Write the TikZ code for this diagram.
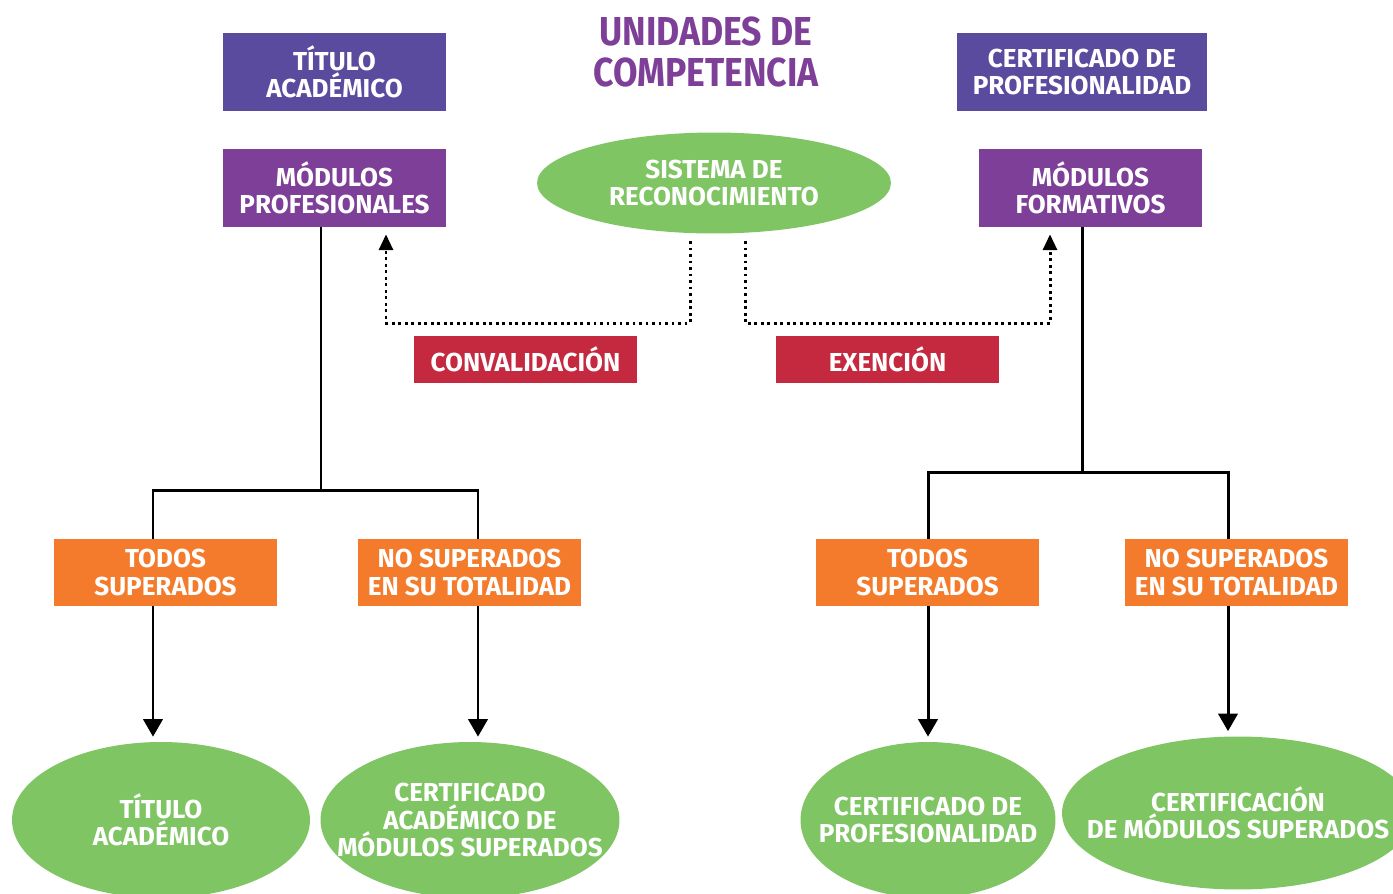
\documentclass[tikz,border=0pt]{standalone}
\usepackage{fontspec}
\setmainfont{Fira Sans}
\newfontfamily\headfont{Fira Sans}[FakeStretch=0.88]
\usetikzlibrary{arrows.meta,shapes.geometric}

\definecolor{ucindigo}{HTML}{5B4B9E}
\definecolor{ucpurple}{HTML}{7E3F98}
\definecolor{ucgreen}{HTML}{80C564}
\definecolor{ucorange}{HTML}{F47B2B}
\definecolor{ucred}{HTML}{C4293F}

\begin{document}
\begin{tikzpicture}[
  x=0.02cm,y=-0.02cm,
  font=\bfseries\fontsize{14.8}{15.4}\selectfont,
  box/.style={fill=#1,text=white,align=center,inner sep=0pt,
              minimum width=4.46cm},
  head/.style={box=ucindigo,minimum height=1.56cm},
  modbox/.style={box=ucpurple,minimum height=1.56cm},
  waybox/.style={box=ucred,minimum height=0.94cm},
  resbox/.style={box=ucorange,minimum height=1.34cm},
  oval/.style={ellipse,fill=ucgreen,text=white,align=center,
               inner xsep=-1.5cm,inner ysep=-0.6cm},
  link/.style={line width=1.7pt},
  down/.style={link,-{Triangle[width=11pt,length=10pt]},shorten >=0.1cm},
  dotarrow/.style={line width=1.7pt,dotted,
                   -{Triangle[width=8pt,length=9pt]}}
]
  \path[use as bounding box] (0,0) rectangle (1393,893);
  \node[text=ucpurple,align=center,
        font=\headfont\bfseries\fontsize{23}{23.8}\selectfont] (titulo) at (706,52)
    {UNIDADES DE\\COMPETENCIA};

  % upper row
  \node[head] (tacad) at (334.5,72) {TÍTULO\\ACADÉMICO};
  \node[head,minimum width=5cm] (cprof) at (1082,72)
    {CERTIFICADO DE\\PROFESIONALIDAD};
  \node[modbox] (mprof) at (334.5,188) {MÓDULOS\\PROFESIONALES};
  \node[modbox] (mform) at (1090.5,188) {MÓDULOS\\FORMATIVOS};
  \node[oval,minimum width=7.08cm,minimum height=2.02cm] (sistema) at (714,183)
    {SISTEMA DE\\RECONOCIMIENTO};
  \node[waybox] (conv) at (525.5,359) {CONVALIDACIÓN};
  \node[waybox] (exen) at (887.5,359) {EXENCIÓN};

  % dotted links from the recognition system
  \coordinate (convA) at (690,241);
  \coordinate (convB) at (386,323);
  \coordinate (exenA) at (745,241);
  \coordinate (exenB) at (1050,323);
  \draw[dotarrow] (convA) |- (convB) -- ([yshift=-0.14cm]convB |- mprof.south);
  \draw[dotarrow] (exenA) |- (exenB) -- ([yshift=-0.14cm]exenB |- mform.south);

  % result boxes
  \node[resbox] (todosA) at (165.5,572.5) {TODOS\\SUPERADOS};
  \node[resbox] (nosupA) at (469.5,572.5) {NO SUPERADOS\\EN SU TOTALIDAD};
  \node[resbox] (todosB) at (927.5,572.5) {TODOS\\SUPERADOS};
  \node[resbox] (nosupB) at (1236.5,572.5) {NO SUPERADOS\\EN SU TOTALIDAD};

  % final ellipses
  \node[oval,minimum width=5.96cm,minimum height=3.12cm] (finA) at (161,820)
    {TÍTULO\\ACADÉMICO};
  \node[oval,minimum width=5.98cm,minimum height=3.12cm] (finB) at (470,820)
    {CERTIFICADO\\ACADÉMICO DE\\MÓDULOS SUPERADOS};
  \node[oval,minimum width=5.1cm,minimum height=3.12cm] (finC) at (928,820)
    {CERTIFICADO DE\\PROFESIONALIDAD};
  \node[oval,minimum width=7.04cm,minimum height=3.06cm] (finD) at (1238,813)
    {CERTIFICACIÓN\\DE MÓDULOS SUPERADOS};

  % tree connectors
  \coordinate (splitA) at (321,490);
  \coordinate (splitB) at (1082,472);
  \coordinate (colA) at (153,0);
  \coordinate (colB) at (478,0);
  \coordinate (colC) at (928,0);
  \coordinate (colD) at (1228,0);
  \draw[link] (mprof.south -| splitA) -- (splitA);
  \draw[link] (todosA.north -| colA) |- (splitA) -| (nosupA.north -| colB);
  \draw[link] (mform.south -| splitB) -- (splitB);
  \draw[link] (todosB.north -| colC) |- (splitB) -| (nosupB.north -| colD);

  \draw[down] (todosA.south -| colA) -- (finA.north -| colA);
  \draw[down] (nosupA.south -| colB) -- (finB.north -| colB);
  \draw[down] (todosB.south -| colC) -- (finC.north -| colC);
  \draw[down] (nosupB.south -| colD) -- (finD.north -| colD);
\end{tikzpicture}
\end{document}
